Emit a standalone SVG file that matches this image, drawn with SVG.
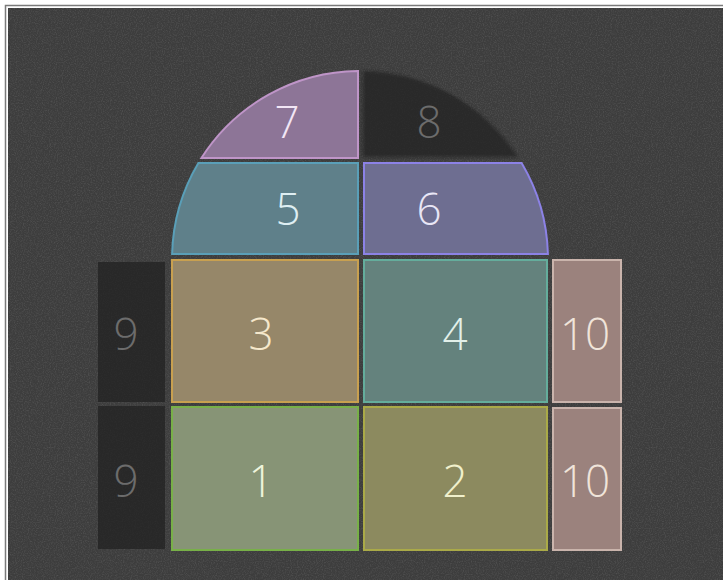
<svg xmlns="http://www.w3.org/2000/svg" width="723" height="580" viewBox="0 0 723 580">
  <defs>
    <filter id="grain" x="0" y="0" width="100%" height="100%">
      <feTurbulence type="fractalNoise" baseFrequency="0.85" numOctaves="2" seed="3" stitchTiles="stitch"/>
      <feColorMatrix type="matrix" values="0 0 0 0 1  0 0 0 0 1  0 0 0 0 1  1.2 0 0 0 -0.5"/>
    </filter>
    <filter id="soft" x="-5%" y="-5%" width="110%" height="110%">
      <feGaussianBlur stdDeviation="1.5"/>
    </filter>
    <style>
      .lbl { font-family: "Open Sans", "Noto Sans", "Liberation Sans", sans-serif; font-weight: 300; font-size: 44px; text-anchor: middle; }
      .cell { stroke-width: 2; }
      .dark { fill: #222222; fill-opacity: 0.75; }
      .dim { fill: #6c6c6c; }
    </style>
  </defs>

  <!-- frame / background -->
  <rect x="0" y="0" width="723" height="580" fill="#ffffff"/>
  <rect x="5.5" y="5.5" width="730" height="590" fill="none" stroke="#7a7a7a" stroke-width="1.5"/>
  <rect x="8" y="8" width="715" height="572" fill="#3d3d3d"/>
  <rect x="8" y="8" width="715" height="572" filter="url(#grain)" opacity="0.18"/>

  <!-- dome -->
  <g id="n7">
    <path class="cell" d="M358 158 L201.4 158 A188 188 0 0 1 358 71 Z" fill="#8d7597" stroke="#bf95c8"/>
    <text class="lbl" x="287" y="138" fill="#f2e6f5">7</text>
  </g>
  <g id="n8">
    <path class="dark" d="M363 71 A188 188 0 0 1 517.9 157 L363 157 Z" filter="url(#soft)"/>
    <text class="lbl dim" x="429" y="138">8</text>
  </g>
  <g id="n5">
    <path class="cell" d="M198.4 163 L358 163 L358 254 L172.1 254 A188 188 0 0 1 198.4 163 Z" fill="#5f808a" stroke="#5a9fb8"/>
    <text class="lbl" x="288" y="225" fill="#deeef2">5</text>
  </g>
  <g id="n6">
    <path class="cell" d="M364 163 L521.6 163 A188 188 0 0 1 547.9 254 L364 254 Z" fill="#6e6e91" stroke="#8c82e6"/>
    <text class="lbl" x="429" y="225" fill="#e8e6f6">6</text>
  </g>

  <!-- grid -->
  <g id="n3">
    <rect class="cell" x="172" y="260" width="186" height="142" fill="#968769" stroke="#c8a050"/>
    <text class="lbl" x="261" y="350" fill="#f5e8cc">3</text>
  </g>
  <g id="n4">
    <rect class="cell" x="364" y="260" width="183" height="142" fill="#64827d" stroke="#64ad9c"/>
    <text class="lbl" x="455" y="350" fill="#e2f0ea">4</text>
  </g>
  <g id="n1">
    <rect class="cell" x="172" y="407" width="186" height="143" fill="#879476" stroke="#78b048"/>
    <text class="lbl" x="261" y="497" fill="#eef4dc">1</text>
  </g>
  <g id="n2">
    <rect class="cell" x="364" y="407" width="183" height="143" fill="#8c8a5f" stroke="#aaaa48"/>
    <text class="lbl" x="455" y="497" fill="#f0f0cc">2</text>
  </g>

  <!-- side columns -->
  <g id="n9a">
    <rect class="dark" x="98" y="262" width="67" height="140"/>
    <text class="lbl dim" x="126" y="350">9</text>
  </g>
  <g id="n9b">
    <rect class="dark" x="98" y="406" width="67" height="143"/>
    <text class="lbl dim" x="126" y="497">9</text>
  </g>
  <g id="n10a">
    <rect class="cell" x="553" y="260" width="68" height="142" fill="#9b827d" stroke="#cab4ac"/>
    <text class="lbl" x="585" y="350" fill="#f0e4da">10</text>
  </g>
  <g id="n10b">
    <rect class="cell" x="553" y="408" width="68" height="142" fill="#9b827d" stroke="#cab4ac"/>
    <text class="lbl" x="585" y="497" fill="#f0e4da">10</text>
  </g>

  <g id="connectors"></g>
</svg>
